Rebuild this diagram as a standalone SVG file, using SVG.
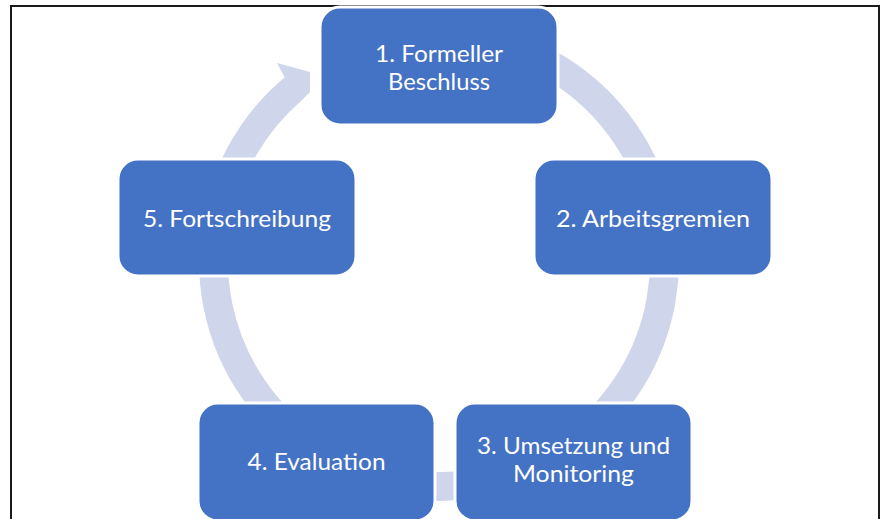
<svg xmlns="http://www.w3.org/2000/svg" width="882" height="519" viewBox="0 0 882 519">
  <style>
    .node rect { fill: #4472C4; stroke: #FFFFFF; stroke-width: 3; }
    .node text { fill: #FFFFFF; font-family: Lato, "Open Sans", "Liberation Sans", sans-serif; font-size: 23px; text-anchor: middle; }
    .ring { fill: none; stroke: #CFD5EA; stroke-width: 29; }
    .arrow { fill: #CFD5EA; stroke: none; }
  </style>
  <rect x="0" y="0" width="882" height="519" fill="#FFFFFF"/>
  <rect x="11" y="6" width="868" height="540" fill="none" stroke="#1A1A1A" stroke-width="2"/>
  <g id="connectors">
    <path class="ring" d="M 478.2 38.9 A 225.5 225.5 0 1 1 216.9 221.8"/>
    <path class="arrow" d="M 202.6 219.3 A 240 240 0 0 1 284.7 77.2 L 277 63 L 310 72 L 310 92 L 301 101 A 211 211 0 0 0 231.2 224.4 Z"/>
  </g>
  <g id="node1" class="node">
    <rect x="320" y="7" width="238" height="118" rx="20"/>
    <text x="439" y="62" textLength="128" lengthAdjust="spacingAndGlyphs">1. Formeller</text>
    <text x="439" y="90" textLength="102" lengthAdjust="spacingAndGlyphs">Beschluss</text>
  </g>
  <g id="node2" class="node">
    <rect x="534" y="159" width="238" height="117" rx="20"/>
    <text x="653" y="227" textLength="194" lengthAdjust="spacingAndGlyphs">2. Arbeitsgremien</text>
  </g>
  <g id="node3" class="node">
    <rect x="455" y="403" width="237" height="118" rx="20"/>
    <text x="573.5" y="454" textLength="193" lengthAdjust="spacingAndGlyphs">3. Umsetzung und</text>
    <text x="573.5" y="482" textLength="121" lengthAdjust="spacingAndGlyphs">Monitoring</text>
  </g>
  <g id="node4" class="node">
    <rect x="198" y="403" width="237" height="118" rx="20"/>
    <text x="316.5" y="470" textLength="138" lengthAdjust="spacingAndGlyphs">4. Evaluation</text>
  </g>
  <g id="node5" class="node">
    <rect x="118" y="159" width="238" height="117" rx="20"/>
    <text x="237" y="227" textLength="188" lengthAdjust="spacingAndGlyphs">5. Fortschreibung</text>
  </g>
</svg>
